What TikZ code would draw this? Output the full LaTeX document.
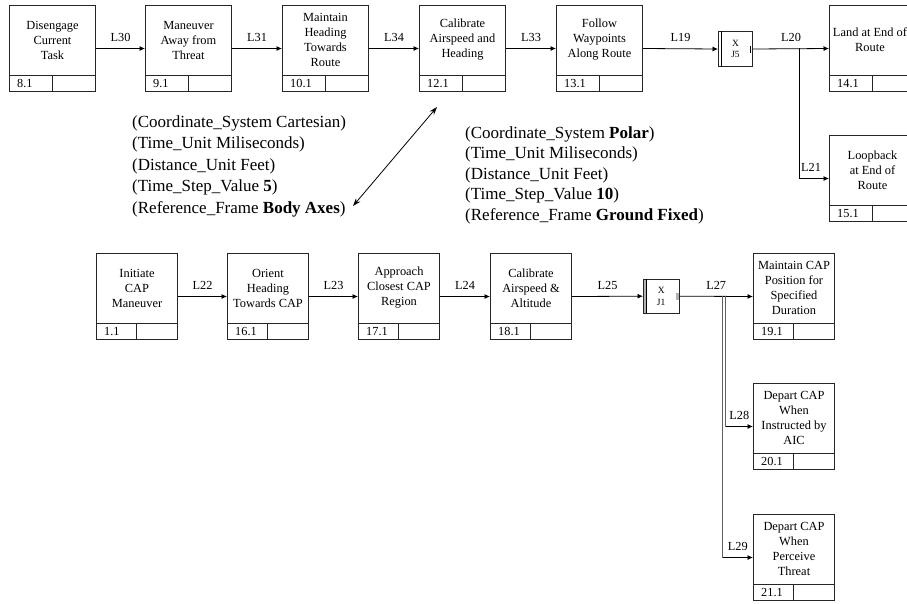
\documentclass[tikz,border=0pt]{standalone}
\usepackage{fontspec}
\setmainfont{Liberation Serif}
\usetikzlibrary{arrows.meta,calc}
\tikzset{
  boxline/.style={draw=black!85, line width=1pt},
  conn/.style={line width=0.8pt, -{Latex[length=5.5pt,width=5pt]}},
  gline/.style={line width=1pt, draw=gray!75!black},
  lbl/.style={font=\fontsize{12.3}{14}\selectfont, inner sep=0},
  btext/.style={font=\fontsize{12.4}{15}\selectfont, align=center, inner sep=0},
  ntext/.style={font=\fontsize{12.3}{14}\selectfont, inner sep=0, anchor=west},
  jtext/.style={font=\fontsize{9.5}{11.5}\selectfont, align=center, inner sep=0},
  side/.style={font=\fontsize{17}{20}\selectfont, inner sep=0, anchor=base west},
}
% #1 name, #2 left x, #3 top y, #4 width, #5 text, #6 number
\newcommand{\procbox}[6]{%
  \node[boxline, minimum width=#4pt, minimum height=86pt, inner sep=0, anchor=north west] (#1) at (#2,#3) {};
  \draw[boxline] ([yshift=17pt]#1.south west) -- ([yshift=17pt]#1.south east);
  \draw[boxline] ([xshift={0.5*#4pt},yshift=17pt]#1.south west) -- ([xshift={0.5*#4pt}]#1.south west);
  \node[btext] (#1-t) at ($(#1.north)!0.5!([yshift=17pt]#1.south)$) {#5};
  \node[ntext] (#1-n) at ([xshift=8pt,yshift=8.5pt]#1.south west) {#6};
}
\begin{document}
\begin{tikzpicture}[x=1pt,y=-1pt]
\useasboundingbox (0,0) rectangle (907,603);
\clip (0,0) rectangle (907,603);
\fill[white] (0,0) rectangle (907,603);

% top row
\procbox{b8}{9}{5}{86}{Disengage\\Current\\Task}{8.1}
\procbox{b9}{145}{5}{86}{Maneuver\\Away from\\Threat}{9.1}
\procbox{b10}{282}{5}{86}{Maintain\\Heading\\Towards\\Route}{10.1}
\procbox{b12}{419}{5}{86}{Calibrate\\Airspeed and\\Heading}{12.1}
\procbox{b13}{556}{5}{86}{Follow\\Waypoints\\Along Route}{13.1}
\procbox{b14}{829}{5}{86}{\hspace*{-5pt}Land at End of\\\hspace*{-5pt}Route}{14.1}
\procbox{b15}{829}{135}{86}{Loopback\\at End of\\Route}{15.1}

% junction J5
\node[boxline, minimum width=34pt, minimum height=35pt, inner sep=0, anchor=north west] (j5) at (718,31) {};
\draw[line width=0.8pt] ([xshift=3.5pt]j5.north west) -- ([xshift=3.5pt]j5.south west);
\draw[line width=0.8pt] ([xshift=-3pt,yshift=3.5pt]j5.east) -- ([xshift=-3pt,yshift=-3.5pt]j5.east);
\node[jtext] (j5-t) at (j5.center) {X\\J5};

\draw[conn] (b8.east) -- (b9.west) node[lbl, midway, yshift=11pt] (l30) {L30};
\draw[conn] (b9.east) -- (b10.west) node[lbl, midway, yshift=11pt] (l31) {L31};
\draw[conn] (b10.east) -- (b12.west) node[lbl, midway, yshift=11pt] (l34) {L34};
\draw[conn] (b12.east) -- (b13.west) node[lbl, midway, yshift=11pt] (l33) {L33};
\draw[conn] (b13.east) -- (j5.west) node[lbl, midway, yshift=11pt] (l19) {L19};
\draw[conn] (j5.east) -- (b14.west) node[lbl, midway, yshift=11pt] (l20) {L20};
\coordinate (br20) at (799,48);
\draw[conn] (br20) |- (b15.west) node[lbl, pos=0.7, yshift=11pt] (l21) {L21};

% bottom row
\procbox{b1}{96}{253}{81}{Initiate\\CAP\\Maneuver}{1.1}
\procbox{b16}{227}{253}{81}{Orient\\Heading\\Towards CAP}{16.1}
\procbox{b17}{358}{253}{81}{Approach\\Closest CAP\\Region}{17.1}
\procbox{b18}{490}{253}{81}{Calibrate\\Airspeed \&\\Altitude}{18.1}
\procbox{b19}{753}{253}{81}{Maintain CAP\\Position for\\Specified\\Duration}{19.1}
\procbox{b20}{753}{383}{81}{Depart CAP\\When\\Instructed by\\AIC}{20.1}
\procbox{b21}{753}{514}{81}{Depart CAP\\When\\Perceive\\Threat}{21.1}

% junction J1
\node[minimum width=36pt, minimum height=34pt, inner sep=0, anchor=north west] (j1) at (643,279) {};
\fill[gray!60] (j1.north west) rectangle ([xshift=3.5pt]j1.south west);
\fill[gray!60] ([xshift=-3.5pt,yshift=3.5pt]j1.east) rectangle ([yshift=-3.5pt]j1.east);
\draw[boxline] (j1.north west) rectangle (j1.south east);
\draw[line width=0.8pt] ([xshift=3.5pt]j1.north west) -- ([xshift=3.5pt]j1.south west);
\node[jtext] (j1-t) at (j1.center) {X\\J1};

\draw[conn] (b1.east) -- (b16.west) node[lbl, midway, yshift=11pt] (l22) {L22};
\draw[conn] (b16.east) -- (b17.west) node[lbl, midway, yshift=11pt] (l23) {L23};
\draw[conn] (b17.east) -- (b18.west) node[lbl, midway, yshift=11pt] (l24) {L24};
\draw[conn] (b18.east) -- (j1.west) node[lbl, midway, yshift=11pt] (l25) {L25};
\draw[conn] (j1.east) -- (b19.west) node[lbl, midway, yshift=11pt] (l27) {L27};

\coordinate (br27a) at (722.5,296);
\coordinate (br27b) at (725.5,296);
\coordinate (c29) at (br27a |- b21.west);
\coordinate (c28) at (br27b |- b20.west);
\draw[gline] (br27a) -- (c29);
\draw[gline] (br27b) -- (c28);
\draw[conn] (c28) -- (b20.west) node[lbl, midway, yshift=11pt] (l28) {L28};
\draw[conn] (c29) -- (b21.west) node[lbl, midway, yshift=11pt] (l29) {L29};

% attribute texts
\node[side] (lt1) at (132,127) {(Coordinate\_System Cartesian)};
\node[side] (lt2) at (132,148.5) {(Time\_Unit Miliseconds)};
\node[side] (lt3) at (132,170) {(Distance\_Unit Feet)};
\node[side] (lt4) at (132,191.5) {(Time\_Step\_Value \textbf{5})};
\node[side] (lt5) at (132,213) {(Reference\_Frame \textbf{Body Axes})};

\node[side] (rt1) at (465,138) {(Coordinate\_System \textbf{Polar})};
\node[side] (rt2) at (465,158.5) {(Time\_Unit Miliseconds)};
\node[side] (rt3) at (465,179) {(Distance\_Unit Feet)};
\node[side] (rt4) at (465,199.5) {(Time\_Step\_Value \textbf{10})};
\node[side] (rt5) at (465,220) {(Reference\_Frame \textbf{Ground Fixed})};

\coordinate (da1) at (437,107);
\coordinate (da2) at (353,206);
\draw[line width=0.8pt, {Stealth[length=8pt,width=5.5pt]}-{Stealth[length=8pt,width=5.5pt]}] (da1) -- (da2);
\end{tikzpicture}
\end{document}
